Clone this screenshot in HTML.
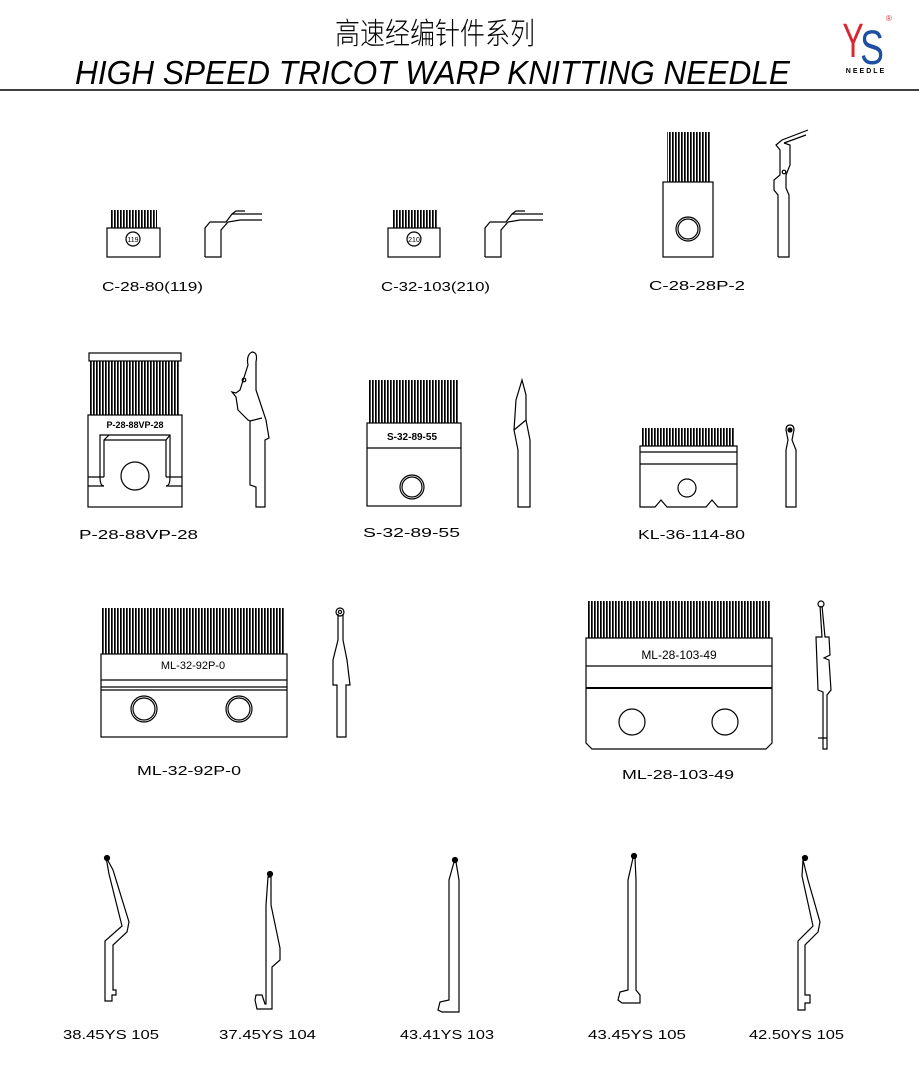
<!DOCTYPE html>
<html><head><meta charset="utf-8"><style>
html,body{margin:0;padding:0;background:#fff;}
svg{display:block;}
text{font-family:"Liberation Sans","Noto Sans CJK SC",sans-serif;}
.l{font-size:13px;fill:#000;}
</style></head><body>
<svg width="919" height="1077" viewBox="0 0 919 1077" xmlns="http://www.w3.org/2000/svg">
<defs>
<pattern id="t" width="3" height="10" patternUnits="userSpaceOnUse"><rect width="1.7" height="10" fill="#000"/></pattern>
</defs>
<g fill="none" stroke="#000" stroke-width="1.2">
<!-- header -->
<text x="335" y="44" font-size="30" fill="#000" stroke="none" font-family="Noto Sans CJK SC,sans-serif" font-weight="300" textLength="200" lengthAdjust="spacingAndGlyphs">高速经编针件系列</text>
<text x="75" y="84" font-size="33" font-style="italic" fill="#000" stroke="none" textLength="715" lengthAdjust="spacingAndGlyphs">HIGH SPEED TRICOT WARP KNITTING NEEDLE</text>
<line x1="0" y1="90" x2="919" y2="90" stroke-width="1.5"/>
<g transform="translate(853,57) scale(0.8,1.2)"><text x="0" y="0" text-anchor="middle" font-size="40" font-family="Liberation Serif,serif" fill="#d8282e" stroke="none">Y</text></g>
<g transform="translate(872,64) scale(0.85,1.15)"><text x="0" y="0" text-anchor="middle" font-size="42" font-family="Liberation Serif,serif" fill="#1f4fa0" stroke="none">S</text></g>
<text x="886" y="21" font-size="8" fill="#d8282e" stroke="none">®</text>
<text x="866" y="73" text-anchor="middle" font-size="7" font-weight="bold" letter-spacing="2" fill="#000" stroke="none">NEEDLE</text>

<!-- C-28-80 -->
<rect x="111" y="210" width="46" height="18" fill="url(#t)" stroke="none"/>
<rect x="107" y="228" width="53" height="29"/>
<circle cx="133" cy="239" r="7"/>
<text x="133" y="242" font-size="7" text-anchor="middle" fill="#000" stroke="none">119</text>
<path d="M205 257 V228 L210 222 H226 L232 214 H262 M232 214 L236 211 H245 M205 257 H221 V230 L228 222 L240 220 H262"/>
<text class="l" x="102" y="291" stroke="none" textLength="101" lengthAdjust="spacingAndGlyphs">C-28-80(119)</text>
<!-- C-32-103 -->
<rect x="392" y="210" width="46" height="18" fill="url(#t)" stroke="none"/>
<rect x="388" y="228" width="52" height="29"/>
<circle cx="414" cy="239" r="7"/>
<text x="414" y="242" font-size="7" text-anchor="middle" fill="#000" stroke="none">210</text>
<path d="M485 257 V228 L490 222 H506 L512 214 H543 M512 214 L516 211 H525 M485 257 H501 V230 L508 222 L520 220 H543"/>
<text class="l" x="381" y="291" stroke="none" textLength="109" lengthAdjust="spacingAndGlyphs">C-32-103(210)</text>
<!-- C-28-28P-2 -->
<rect x="667" y="132" width="43" height="50" fill="url(#t)" stroke="none"/>
<rect x="663" y="182" width="50" height="75"/>
<circle cx="688" cy="229" r="12"/><circle cx="688" cy="229" r="10"/>
<path d="M778 257 V195 L774 190 V180 L780 175 V150 L776 145 L782 140 L808 130 M784 143 L806 135 M778 257 H789 V195 L786 188 V175 L790 165 V145 L784 143"/>
<circle cx="784" cy="172" r="1.8"/>
<text class="l" x="649" y="290" stroke="none" textLength="96" lengthAdjust="spacingAndGlyphs">C-28-28P-2</text>
<!-- P-28-88VP-28 -->
<rect x="89" y="353" width="92" height="8"/>
<rect x="90" y="361" width="90" height="54" fill="url(#t)" stroke="none"/>
<rect x="88" y="415" width="94" height="92"/>
<text x="135" y="428" font-size="9" font-weight="bold" text-anchor="middle" fill="#000" stroke="none">P-28-88VP-28</text>
<path d="M100 477 V435 H170 V477 M104 477 V440 L109 435 M104 440 H166 L170 435 M166 440 V477 M88 477 H104 M88 486 H104 M166 477 H182 M166 486 H182"/>
<path d="M100 477 Q100 486 104 486 M170 477 Q170 486 166 486"/>
<circle cx="135" cy="476" r="14"/>
<path d="M252 352 Q246 355 248 365 L240 390 L236 393 L232 392 L236 397 L238 410 L248 420 L250 421 V485 L256 487 V507 H265 V440 L269 438 L266 420 L256 390 L256 362 Q258 352 252 352 Z M250 421 L262 418"/>
<circle cx="244" cy="380" r="1.8"/>
<text class="l" x="79" y="539" stroke="none" textLength="119" lengthAdjust="spacingAndGlyphs">P-28-88VP-28</text>
<!-- S-32-89-55 -->
<rect x="369" y="380" width="90" height="43" fill="url(#t)" stroke="none"/>
<rect x="367" y="423" width="94" height="83"/>
<line x1="367" y1="448" x2="461" y2="448"/>
<text x="412" y="440" font-size="10" font-weight="bold" text-anchor="middle" fill="#000" stroke="none">S-32-89-55</text>
<circle cx="412" cy="487" r="12"/><circle cx="412" cy="487" r="10"/>
<path d="M522 380 L516 400 L514 430 L518 450 V507 H530 V440 L526 420 L526 395 Z M514 430 L526 420"/>
<text class="l" x="363" y="537" stroke="none" textLength="97" lengthAdjust="spacingAndGlyphs">S-32-89-55</text>
<!-- KL-36-114-80 -->
<rect x="642" y="428" width="93" height="18" fill="url(#t)" stroke="none"/>
<path d="M640 446 H737 V507 H718 L712 500 L706 507 H667 L661 500 L655 507 H640 Z M640 452 H737 M640 464 H737"/>
<circle cx="687" cy="488" r="9"/>
<path d="M786 430 Q786 425 790 425 Q794 425 794 430 L792 440 L796 450 V507 H786 V450 L788 440 Z"/>
<circle cx="790" cy="430" r="2" fill="#000"/>
<text class="l" x="638" y="539" stroke="none" textLength="107" lengthAdjust="spacingAndGlyphs">KL-36-114-80</text>
<!-- ML-32-92P-0 -->
<rect x="101" y="608" width="184" height="46" fill="url(#t)" stroke="none"/>
<rect x="101" y="654" width="186" height="83"/>
<path d="M101 680 H287 M101 687 H287 M101 690 H287"/>
<text x="193" y="669" font-size="11" text-anchor="middle" fill="#000" stroke="none">ML-32-92P-0</text>
<circle cx="144" cy="709" r="13"/><circle cx="144" cy="709" r="11"/>
<circle cx="239" cy="709" r="13"/><circle cx="239" cy="709" r="11"/>
<path d="M338 614 V640 L333 660 V685 H337 V737 H346 V685 H350 L347 660 L343 640 V614"/>
<circle cx="340" cy="612" r="4"/><circle cx="340" cy="612" r="1.6"/>
<text class="l" x="137" y="775" stroke="none" textLength="104" lengthAdjust="spacingAndGlyphs">ML-32-92P-0</text>
<!-- ML-28-103-49 -->
<rect x="587" y="601" width="183" height="37" fill="url(#t)" stroke="none"/>
<path d="M586 638 H772 V743 L766 749 H592 L586 743 Z M586 666 H772"/>
<line x1="586" y1="688" x2="772" y2="688" stroke-width="2"/>
<text x="679" y="659" font-size="12" text-anchor="middle" fill="#000" stroke="none">ML-28-103-49</text>
<circle cx="632" cy="722" r="13"/><circle cx="725" cy="722" r="13"/>
<path d="M820 606 L822 637 H816 L818 690 L823 692 V749 H827 V695 L831 690 L829 660 L824 658 L830 655 L829 637 H825 L822 606 M818 738 H827"/>
<circle cx="821" cy="604" r="3"/>
<text class="l" x="622" y="779" stroke="none" textLength="112" lengthAdjust="spacingAndGlyphs">ML-28-103-49</text>

<!-- needles -->
<path d="M106 857 L113 870 L129 922 L127 932 L113 945 V990 L116 990 V995 L112 995 V1001 H105 V941 L122 926 L109 874 Z"/>
<circle cx="107" cy="858" r="2.5" fill="#000"/>
<text class="l" x="63" y="1039" stroke="none" textLength="96" lengthAdjust="spacingAndGlyphs">38.45YS  105</text>
<path d="M268 877 L271 877 L271 905 L280 948 V960 L272 967 V1009 H257 L255 1000 L256 995 L262 995 L265 1004 L266 1004 V905 Z"/>
<circle cx="270" cy="874" r="2.5" fill="#000"/>
<text class="l" x="219" y="1039" stroke="none" textLength="97" lengthAdjust="spacingAndGlyphs">37.45YS  104</text>
<path d="M454 862 L449 880 V1000 L440 1002 L438 1010 L442 1012 H459 V880 L456 862"/>
<circle cx="455" cy="860" r="2.5" fill="#000"/>
<text class="l" x="400" y="1039" stroke="none" textLength="94" lengthAdjust="spacingAndGlyphs">43.41YS  103</text>
<path d="M633 858 L628 880 V990 L620 992 L618 1000 L622 1003 H640 V995 L636 990 V880 L635 858"/>
<circle cx="634" cy="856" r="2.5" fill="#000"/>
<text class="l" x="588" y="1039" stroke="none" textLength="98" lengthAdjust="spacingAndGlyphs">43.45YS  105</text>
<path d="M803 860 L808 880 L820 922 L818 932 L805 945 V995 L810 995 V1003 L805 1003 V1010 H798 V941 L813 926 L802 876 Z"/>
<circle cx="805" cy="858" r="2.5" fill="#000"/>
<text class="l" x="749" y="1039" stroke="none" textLength="95" lengthAdjust="spacingAndGlyphs">42.50YS  105</text>
</g>
</svg>
</body></html>
